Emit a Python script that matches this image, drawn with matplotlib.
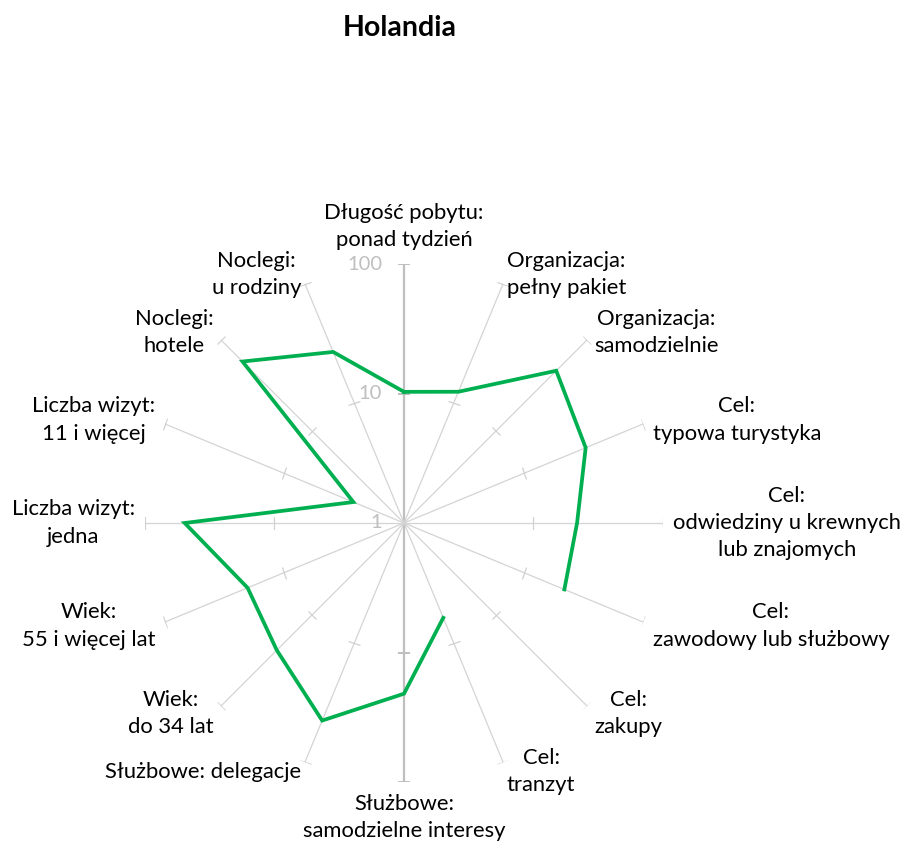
import numpy as np
import matplotlib
matplotlib.use("Agg")
from matplotlib import pyplot as plt
from matplotlib.markers import MarkerStyle
from matplotlib.transforms import Affine2D

plt.rcParams["font.family"] = ["Lato", "DejaVu Sans"]

categories = [
    "Długość pobytu:\nponad tydzień",
    "Organizacja:\npełny pakiet",
    "Organizacja:\nsamodzielnie",
    "Cel:\ntypowa turystyka",
    "Cel:\nodwiedziny u krewnych\nlub znajomych",
    "Cel:\nzawodowy lub służbowy",
    "Cel:\nzakupy",
    "Cel:\ntranzyt",
    "Służbowe:\nsamodzielne interesy",
    "Służbowe: delegacje",
    "Wiek:\ndo 34 lat",
    "Wiek:\n55 i więcej lat",
    "Liczba wizyt:\njedna",
    "Liczba wizyt:\n11 i więcej",
    "Noclegi:\nhotele",
    "Noclegi:\nu rodziny",
]

# Holandia, log scale (1 - 100); zakupy has no value
values = [10.3, 12.5, 46, 33, 21.7, 21.9, np.nan, 6.2,
          20.8, 44.8, 24.5, 20.3, 49.4, 2.65, 58, 26.9]

r_ticks = [1, 10, 100]
r_tick_labels = ["1", "10", "100"]

n = len(categories)
theta = np.arange(n) * 2 * np.pi / n

fig = plt.figure(figsize=(9.04, 8.47), dpi=100)
ax = fig.add_axes([145 / 904, 1 - 782 / 847, 518 / 904, 518 / 847], polar=True)
ax.set_theta_zero_location("N")
ax.set_theta_direction(-1)
ax.set_rscale("log")
ax.set_rlim(1, 100)
ax.grid(False)
ax.set_xticks([])
ax.set_yticks([])
ax.spines["polar"].set_visible(False)
ax.patch.set_alpha(0)

# spokes with cross ticks
for i, t in enumerate(theta):
    main = i in (0, n // 2)
    ax.plot([t, t], [1, 100], color="#bfbfbf" if main else "#d4d4d4",
            lw=1.6 if main else 0.9, zorder=1)
    mk = MarkerStyle("_", transform=Affine2D().rotate_deg(-np.degrees(t)))
    ax.plot([t, t], [10, 100], ls="none", marker=mk, ms=9,
            mec="#bfbfbf" if main else "#d0d0d0", mew=1.2 if main else 0.9, zorder=1)

# series
tt = np.append(theta, theta[0])
vv = np.append(values, values[0])
ax.plot(tt, vv, color="#00b050", lw=2.7, solid_joinstyle="miter", zorder=3)

# radial labels
for rv, lab in zip(r_ticks, r_tick_labels):
    ax.annotate(lab, xy=(0, rv), xytext=(-22, 0), textcoords="offset pixels",
                ha="right", va="center", fontsize=14.5, color="#bfbfbf")

# category labels
for t, lab in zip(theta, categories):
    s, c = np.sin(t), np.cos(t)
    if abs(s) < 1e-6:
        ha = "center"
        va = "bottom" if c > 0 else "top"
        d = 14 if c > 0 else 12
    else:
        ha = "left" if s > 0 else "right"
        va = "center"
        d = 10
    ax.annotate(lab, xy=(t, 100), xytext=(s * d, c * d), textcoords="offset pixels",
                ha=ha, va=va, fontsize=15.8, linespacing=1.45, multialignment="center",
                annotation_clip=False)

fig.text(400 / 904, 1 - 28 / 847, "Holandia", ha="center", va="center",
         fontsize=20.5, fontweight="bold")

fig.savefig("out.png", dpi=100)
